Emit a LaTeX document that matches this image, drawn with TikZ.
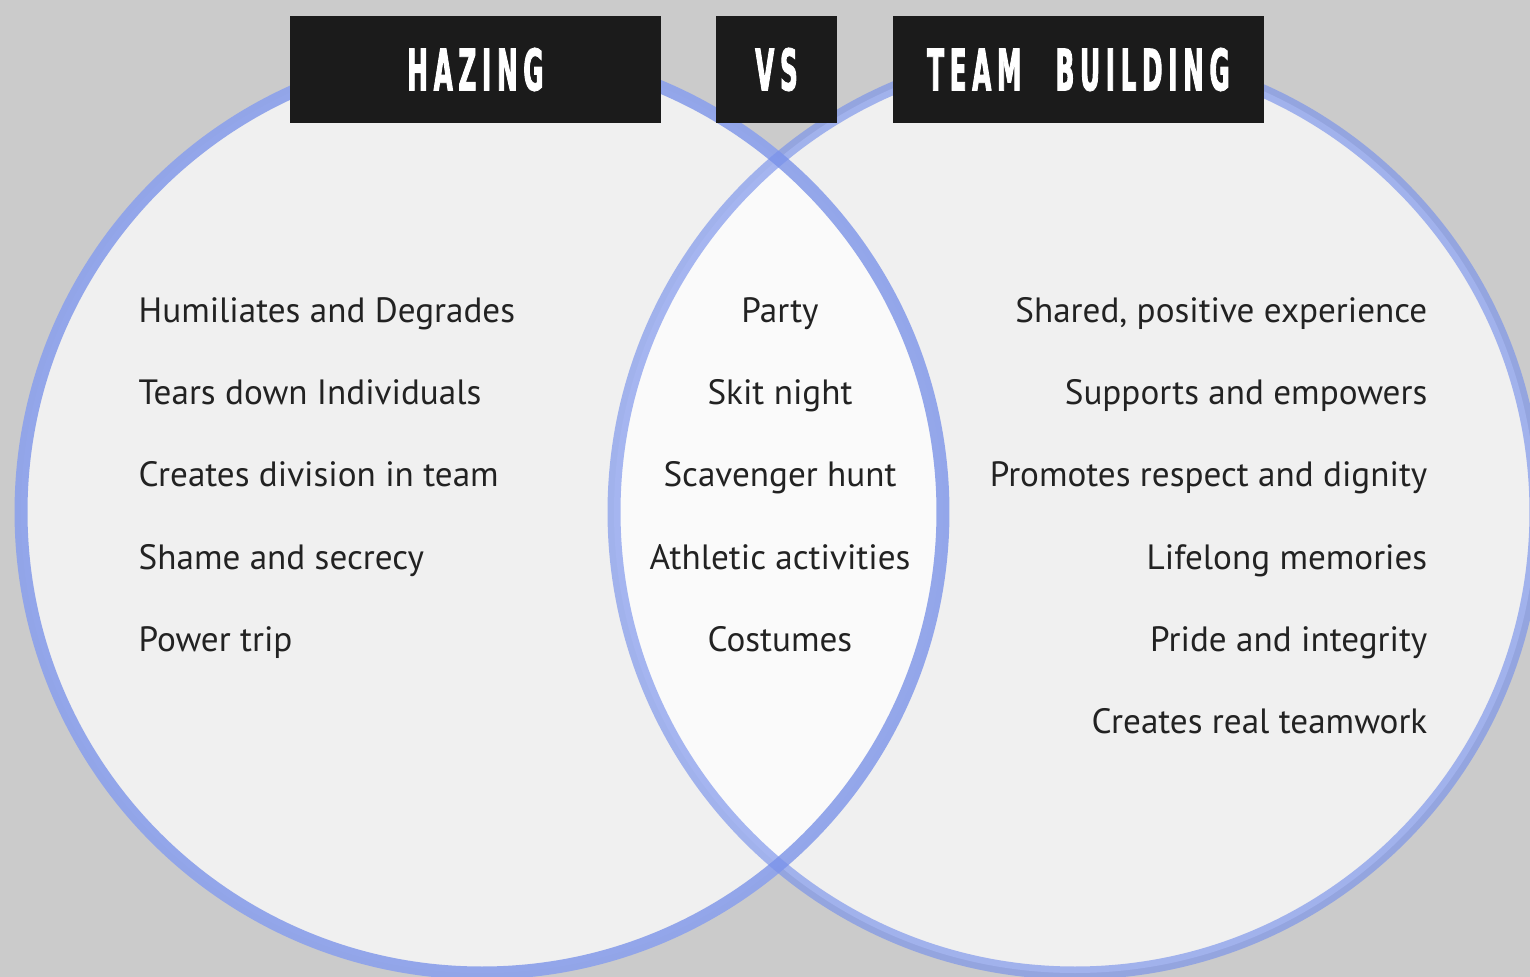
\documentclass[tikz,border=0pt]{standalone}
\usepackage{fontspec}
\usetikzlibrary{positioning}
\setmainfont{PT Sans}
\newfontfamily\headfont[FakeStretch=0.43,FakeBold=1.5,LetterSpace=10]{DejaVu Sans}
\definecolor{bg}{RGB}{203,203,203}
\definecolor{disc}{RGB}{240,240,240}
\definecolor{lens}{RGB}{250,250,250}
\definecolor{ringl}{RGB}{143,163,234}
\definecolor{ringr}{RGB}{120,145,235}
\definecolor{headblack}{RGB}{27,27,27}
\definecolor{ink}{RGB}{34,34,34}
\def\lc{(482,512)}
\def\rc{(1075,512)}
\def\rad{46.1mm}
\tikzset{
  ring/.style={line width=1.3mm},
  headbox/.style={fill=headblack,text=white,inner sep=0,outer sep=0,minimum height=10.7mm,
    font=\headfont\bfseries\fontsize{16.3}{16}\selectfont},
  item/.style={inner sep=0,text=ink,font=\fontsize{10}{12}\selectfont},
}

\begin{document}
\begin{tikzpicture}[x=0.1mm,y=-0.1mm]
  \fill[bg] (0,0) rectangle (1530,977);
  \useasboundingbox (0,0) rectangle (1530,977);
  % the two sets
  \fill[disc] \lc circle (\rad);
  \fill[disc] \rc circle (\rad);
  \begin{scope}
    \clip \lc circle (\rad);
    \fill[lens] \rc circle (\rad);
  \end{scope}
  \draw[ring,ringl,opacity=0.95] \lc circle (\rad);
  \draw[ring,ringr,opacity=0.65] \rc circle (\rad);
  % titles
  \node[headbox,minimum width=37.1mm] (hz) at (475.5,69.5) {HAZING};
  \node[headbox,minimum width=12.1mm,right=5.5mm of hz] (vs) {VS};
  \node[headbox,minimum width=37.1mm,right=5.6mm of vs] (tb) {TEAM\hspace{3.4mm}BUILDING};
  % hazing only
  \node[item,anchor=base west] (h1) at (138,322) {Humiliates and Degrades};
  \node[item,anchor=base west] (h2) at (138,404) {Tears down Individuals};
  \node[item,anchor=base west] (h3) at (138,486) {Creates division in team};
  \node[item,anchor=base west] (h4) at (138,569) {Shame and secrecy};
  \node[item,anchor=base west] (h5) at (138,651) {Power trip};
  % both
  \node[item,anchor=base] (b1) at (780,322) {Party};
  \node[item,anchor=base] (b2) at (780,404) {Skit night};
  \node[item,anchor=base] (b3) at (780,486) {Scavenger hunt};
  \node[item,anchor=base] (b4) at (780,569) {Athletic activities};
  \node[item,anchor=base] (b5) at (780,651) {Costumes};
  % team building only
  \node[item,anchor=base east] (t1) at (1428,322) {Shared, positive experience};
  \node[item,anchor=base east] (t2) at (1428,404) {Supports and empowers};
  \node[item,anchor=base east] (t3) at (1428,486) {Promotes respect and dignity};
  \node[item,anchor=base east] (t4) at (1428,569) {Lifelong memories};
  \node[item,anchor=base east] (t5) at (1428,651) {Pride and integrity};
  \node[item,anchor=base east] (t6) at (1428,733) {Creates real teamwork};
\end{tikzpicture}
\end{document}
